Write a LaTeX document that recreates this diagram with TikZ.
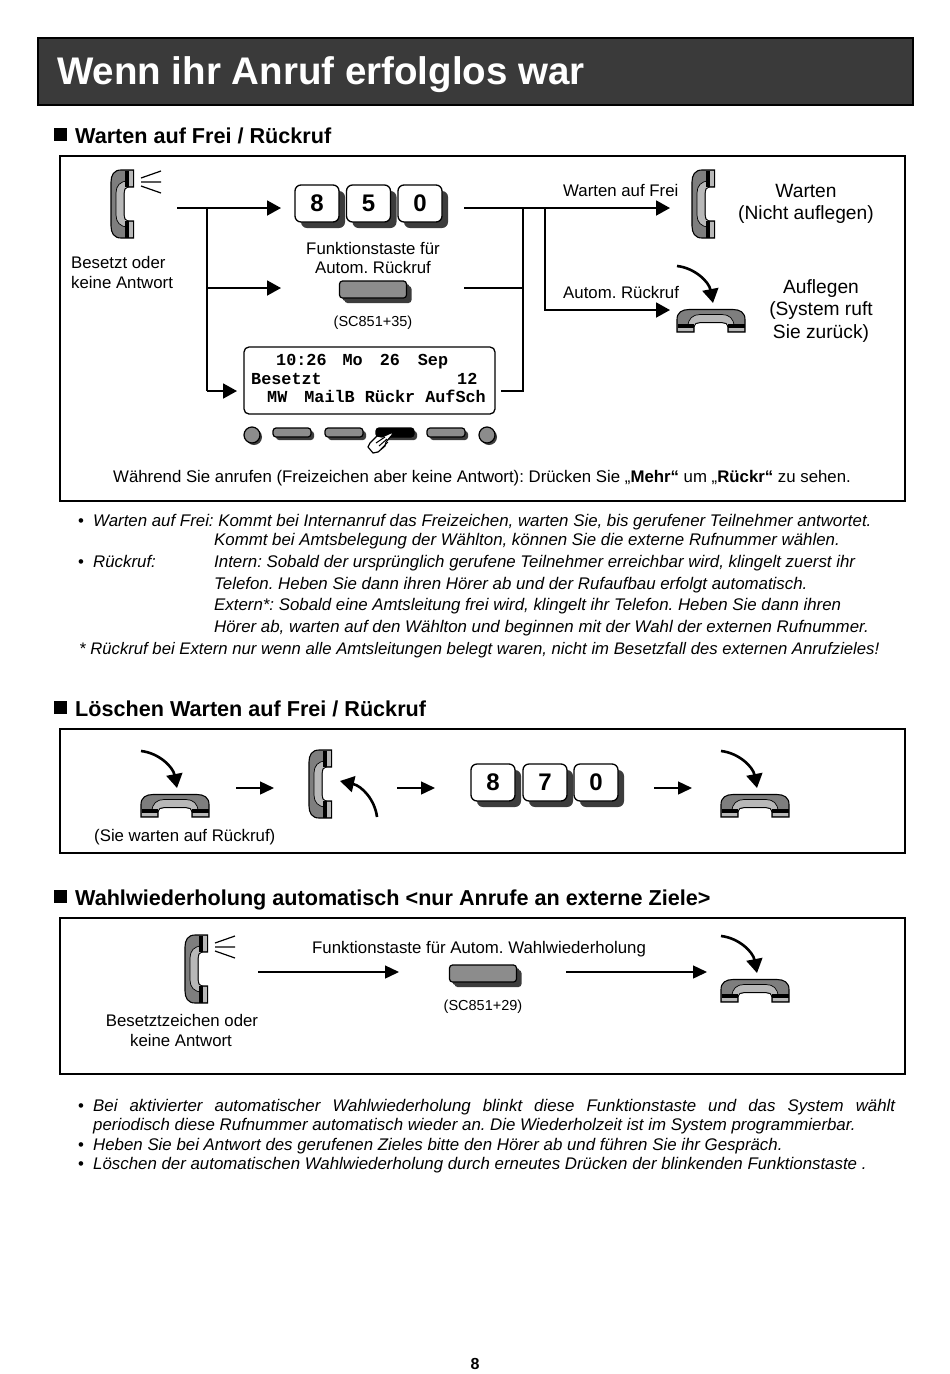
\documentclass[tikz,border=0pt]{standalone}
\usepackage{fontspec}
\setmainfont{Liberation Sans}
\setmonofont{Liberation Mono}
\usepackage{xcolor}
\usetikzlibrary{arrows.meta, calc, shadows}
\frenchspacing

\definecolor{barcolor}{HTML}{3A3A3A}
\definecolor{shadowcolor}{HTML}{3C3C3C}
\definecolor{handsetdark}{HTML}{7E7E7E}
\definecolor{handsetlight}{HTML}{B8B8B8}
\definecolor{fkeycolor}{HTML}{8C8C8C}

\tikzset{
    txt/.style={anchor=base west, inner sep=0pt, font=\fontsize{16.8}{20}\selectfont},
    mid/.style={txt, anchor=base},
    big/.style={mid, font=\fontsize{19.2}{22}\selectfont},
    small/.style={mid, font=\fontsize{14.5}{17}\selectfont},
    note/.style={txt, font=\fontsize{16.85}{20}\selectfont\itshape},
    heading/.style={txt, font=\fontsize{21.6}{26}\selectfont\bfseries},
    lcd/.style={txt, font=\fontsize{16.8}{20}\selectfont\ttfamily\bfseries},
    frame/.style={draw, line width=1.4pt},
    link/.style={line width=1.3pt},
    flow/.style={line width=1.9pt, -{Triangle[length=14pt, width=15pt]}},
    flowthin/.style={line width=1.4pt, -{Triangle[length=14pt, width=13pt]}},
    curvearrow/.style={line width=2.6pt, -{Triangle[length=14pt, width=16pt]}},
    keycap/.style={draw, fill=white, rounded corners=6pt, line width=1.3pt, inner sep=0pt,
        minimum width=44pt, minimum height=37pt, font=\fontsize{24}{24}\selectfont\bfseries,
        general shadow={fill=shadowcolor, shadow xshift=6pt, shadow yshift=-6pt}},
    softkey/.style={draw, fill=fkeycolor, rounded corners=3pt, line width=1.2pt, inner sep=0pt,
        minimum width=38pt, minimum height=9pt,
        general shadow={fill=shadowcolor, shadow xshift=3pt, shadow yshift=-3pt}},
    fkey/.style={softkey, minimum width=67pt, minimum height=17pt,
        general shadow={fill=shadowcolor, shadow xshift=5pt, shadow yshift=-5pt}},
    lamp/.style={draw, circle, fill=fkeycolor, line width=1.2pt, inner sep=0pt, minimum size=16pt,
        general shadow={fill=shadowcolor, shadow xshift=2pt, shadow yshift=-2pt}},
    handset/.pic={
        \draw[fill=handsetdark, line width=1.1pt] (22.5,0) -- (10,0) .. controls (3,0) and (0,5) .. (0,12)
            -- (0,56) .. controls (0,63) and (3,68) .. (10,68) -- (22.5,68) -- (22.5,51) -- (18,51)
            .. controls (14,51) and (13,48) .. (13,45) -- (13,23) .. controls (13,20) and (14,17) .. (18,17)
            -- (22.5,17) -- cycle;
        \draw[fill=handsetlight, line width=.7pt] (17,17) .. controls (14,17) and (13,20) .. (13,23)
            -- (13,45) .. controls (13,48) and (14,51) .. (17,51) -- (17,57)
            .. controls (9,57) and (5,52) .. (5,45) -- (5,23) .. controls (5,16) and (9,11) .. (17,11) -- cycle;
        \fill (14,.5) rectangle (18,17);
        \fill (14,51) rectangle (18,67.5);
        \fill[handsetlight] (18,1) rectangle (21.9,16.4);
        \fill[handsetlight] (18,51.6) rectangle (21.9,67);
    },
    ringing/.pic={
        \draw[line width=1.2pt] (50,1) -- (30,8) (30,12) -- (50,12) (30,16) -- (50,23);
    },
    dropdown/.pic={
        \draw[curvearrow] (0,0) .. controls (18,2) and (32,16) .. (36,37);
    },
}

\begin{document}
\begin{tikzpicture}[x=1pt, y=-1pt]
    \useasboundingbox (0,0) rectangle (950,1374);
    \fill[white] (0,0) rectangle (950,1374);

    % Title bar
    \draw[fill=barcolor, line width=1.4pt] (38,38) rectangle (913,105);
    \node[txt, text=white, font=\fontsize{38.5}{44}\selectfont\bfseries] (title) at (57,84) {Wenn ihr Anruf erfolglos war};

    % Section headings
    \foreach \y/\n/\t in {143/one/{Warten auf Frei / Rückruf},716/two/{Löschen Warten auf Frei / Rückruf},905/three/{Wahlwiederholung automatisch <nur Anrufe an externe Ziele>}} {
        \fill (54,\y-15) rectangle (67,\y-2);
        \node[heading] (head\n) at (75,\y) {\t};
    }

    % Frames
    \draw[frame] (60,156) rectangle (905,501);
    \draw[frame] (60,729) rectangle (905,853);
    \draw[frame] (60,918) rectangle (905,1074);

    % First frame, left side
    \pic at (111,170) {handset};
    \pic at (111,170) {ringing};
    \node[txt] (busyA) at (71,268) {Besetzt oder};
    \node[txt] (busyB) at (71,288) {keine Antwort};
    \foreach \x/\d in {317/8,368.5/5,420/0}
        \node[keycap] (dial\d) at (\x,203.5) {\d};
    \node[mid] (fnA) at (373,254) {Funktionstaste für};
    \node[mid] (fnB) at (373,273) {Autom. Rückruf};
    \node[fkey] (recall) at (373,289.5) {};
    \node[small] (recallcode) at (373,326) {(SC851+35)};

    % Display
    \node[draw, rounded corners=5pt, line width=1.3pt, minimum width=251pt, minimum height=67pt, inner sep=0pt] (display) at (369.5,380.5) {};
    \node[lcd] (lcdA) at (276,365) {10:26\hspace{16pt}Mo\hspace{17pt}26\hspace{18pt}Sep};
    \node[lcd] (lcdB) at (251,384) {Besetzt};
    \node[lcd] (lcdC) at (457,384) {12};
    \node[lcd] (lcdD) at (267,402) {MW\hspace{17pt}MailB Rückr AufSch};

    % Keys below the display
    \node[lamp] (lampL) at (252,435) {};
    \node[lamp] (lampR) at (487,435) {};
    \foreach \x/\n in {292/a,344/b,446/d}
        \node[softkey] (soft\n) at (\x,432.5) {};
    \node[softkey, fill=black] (softc) at (395,432.5) {};
    \draw[fill=white, line width=1.2pt, line join=round] (393,432) -- (382,437) -- (377,436) -- (370,443) -- (368,447) -- (373,453) -- (378,452) -- (385,446) -- (386,442) -- (392,435) -- cycle;
    \draw[line width=1pt] (376,443) -- (385,437) (379,446) -- (387,439) (381,449) -- (388,442);
    \node[txt] (hint) at (113,482) {Während Sie anrufen (Freizeichen aber keine Antwort): Drücken Sie „\textbf{Mehr“} um „\textbf{Rückr“} zu sehen.};

    % First frame, connectors
    \coordinate (startA) at (177,208);
    \coordinate (forkA) at (207,208);
    \coordinate (forkB) at (207,288);
    \coordinate (forkC) at (207,391);
    \coordinate (inA) at (281,208);
    \coordinate (inB) at (281,288);
    \coordinate (inC) at (237,391);
    \draw[flow] (startA) -- (inA);
    \draw[link] (forkA) -- (forkC);
    \draw[flow] (forkB) -- (inB);
    \draw[flow] (forkC) -- (inC);

    \coordinate (outA) at (464,208);
    \coordinate (outB) at (464,288);
    \coordinate (outC) at (501,391);
    \coordinate (joinA) at (523,208);
    \coordinate (joinB) at (523,288);
    \coordinate (joinC) at (523,391);
    \coordinate (splitA) at (545,208);
    \coordinate (splitB) at (545,310);
    \coordinate (waitend) at (670,208);
    \coordinate (hangend) at (670,310);
    \draw[flow] (outA) -- (waitend);
    \draw[link] (joinA) -- (joinC) -- (outC);
    \draw[link] (outB) -- (joinB);
    \draw[flow] (splitA) -- (splitB) -- (hangend);

    % First frame, right side
    \node[txt] (waitlabel) at (563,196) {Warten auf Frei};
    \node[txt] (recalllabel) at (563,298) {Autom. Rückruf};
    \pic at (692,170) {handset};
    \pic at (677,266) {dropdown};
    \pic[rotate=-90] at (745,309.5) {handset};
    \node[big] (waitA) at (806,197) {Warten};
    \node[big] (waitB) at (806,219) {(Nicht auflegen)};
    \node[big] (hangA) at (821,293) {Auflegen};
    \node[big] (hangB) at (821,315) {(System ruft};
    \node[big] (hangC) at (821,338) {Sie zurück)};

    % Notes below first frame
    \node[txt] (dotA) at (78,526) {•};
    \node[note] (noteA) at (93,526) {Warten auf Frei: Kommt bei Internanruf das Freizeichen, warten Sie, bis gerufener Teilnehmer antwortet.};
    \node[note] (noteB) at (214,545) {Kommt bei Amtsbelegung der Wählton, können Sie die externe Rufnummer wählen.};
    \node[txt] (dotB) at (78,567) {•};
    \node[note] (noteC) at (93,567) {Rückruf:};
    \node[note] (noteD) at (214,567) {Intern: Sobald der ursprünglich gerufene Teilnehmer erreichbar wird, klingelt zuerst ihr};
    \node[note] (noteE) at (214,589) {Telefon. Heben Sie dann ihren Hörer ab und der Rufaufbau erfolgt automatisch.};
    \node[note] (noteF) at (214,610) {Extern*: Sobald eine Amtsleitung frei wird, klingelt ihr Telefon. Heben Sie dann ihren};
    \node[note] (noteG) at (214,632) {Hörer ab, warten auf den Wählton und beginnen mit der Wahl der externen Rufnummer.};
    \node[note, font=\fontsize{16.7}{20}\selectfont\itshape] (noteH) at (79,654) {* Rückruf bei Extern nur wenn alle Amtsleitungen belegt waren, nicht im Besetzfall des externen Anrufzieles!};

    % Second frame
    \pic at (141,751) {dropdown};
    \pic[rotate=-90] at (209,794.5) {handset};
    \node[txt] (waiting) at (94,841) {(Sie warten auf Rückruf)};
    \coordinate (stepA) at (236,788);
    \coordinate (stepB) at (274,788);
    \coordinate (stepC) at (397,788);
    \coordinate (stepD) at (435,788);
    \coordinate (stepE) at (654,788);
    \coordinate (stepF) at (692,788);
    \draw[flowthin] (stepA) -- (stepB);
    \pic at (309,750) {handset};
    \draw[curvearrow] (377,817) .. controls (375,800) and (362,786) .. (340,781);
    \draw[flowthin] (stepC) -- (stepD);
    \foreach \x/\d in {493/8,545/7,596/0}
        \node[keycap] (cancel\d) at (\x,782.5) {\d};
    \draw[flowthin] (stepE) -- (stepF);
    \pic at (721,751) {dropdown};
    \pic[rotate=-90] at (789,794.5) {handset};

    % Third frame
    \pic at (185,935) {handset};
    \pic at (185,935) {ringing};
    \node[mid] (toneA) at (182,1026) {Besetztzeichen oder};
    \node[mid] (toneB) at (181,1046) {keine Antwort};
    \coordinate (redialA) at (258,972);
    \coordinate (redialB) at (399,972);
    \coordinate (redialC) at (566,972);
    \coordinate (redialD) at (707,972);
    \draw[flowthin] (redialA) -- (redialB);
    \node[txt] (redialtext) at (312,953) {Funktionstaste für Autom. Wahlwiederholung};
    \node[fkey] (redial) at (483,973.5) {};
    \node[small] (redialcode) at (483,1010) {(SC851+29)};
    \draw[flowthin] (redialC) -- (redialD);
    \pic at (721,936) {dropdown};
    \pic[rotate=-90] at (789,979.5) {handset};

    % Notes below third frame
    \node[txt] (dotC) at (78,1111) {•};
    \node[note] (noteI) at (93,1111) {\makebox[802pt][s]{Bei aktivierter automatischer Wahlwiederholung blinkt diese Funktionstaste und das System wählt}};
    \node[note] (noteJ) at (93,1130) {periodisch diese Rufnummer automatisch wieder an. Die Wiederholzeit ist im System programmierbar.};
    \node[txt] (dotD) at (78,1150) {•};
    \node[note] (noteK) at (93,1150) {Heben Sie bei Antwort des gerufenen Zieles bitte den Hörer ab und führen Sie ihr Gespräch.};
    \node[txt] (dotE) at (78,1169) {•};
    \node[note] (noteL) at (93,1169) {Löschen der automatischen Wahlwiederholung durch erneutes Drücken der blinkenden Funktionstaste .};

    % Page number
    \node[mid, font=\fontsize{16}{18}\selectfont\bfseries] (pagenum) at (475,1369) {8};
\end{tikzpicture}
\end{document}
